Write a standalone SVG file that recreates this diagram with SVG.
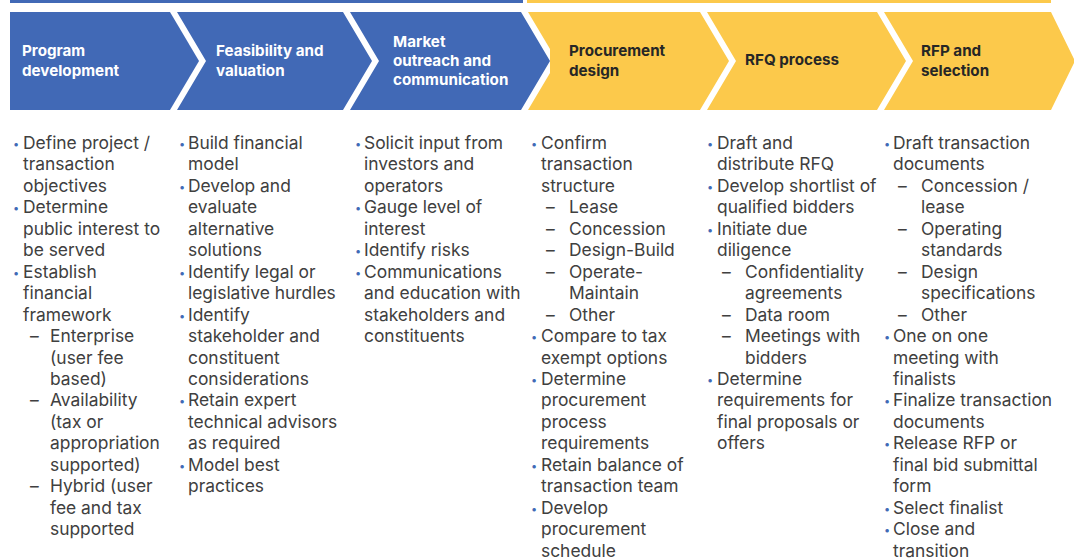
<svg xmlns="http://www.w3.org/2000/svg" width="1074" height="560" viewBox="0 0 1074 560">
<style>
.bg{fill:#ffffff}
.blue{fill:#4169b6}
.yel{fill:#fcc94b}
.hw{font-family:Inter,"Open Sans",sans-serif;font-size:15.2px;font-weight:bold;fill:#ffffff}
.hd{font-family:Inter,"Open Sans",sans-serif;font-size:15.2px;font-weight:bold;fill:#262626}
.t{font-family:Inter,"Open Sans",sans-serif;font-size:17.4px;fill:#404040}
.b{font-family:Inter,"Open Sans",sans-serif;font-size:11px;fill:#4169b6}
</style>
<rect class="bg" x="0" y="0" width="1074" height="560"/>
<rect class="blue" x="10" y="0" width="513" height="3"/>
<rect class="yel" x="527" y="0" width="524" height="3"/>
<g id="connectors"/>

<g id="stage1">
<polygon class="blue" points="10,12 170,12 199,61 170,110 10,110"/>
<text class="hw" x="22" y="56">Program</text>
<text class="hw" x="22" y="76">development</text>
<text class="b" x="13" y="148">•</text><text class="t" x="23" y="149">Define project /</text>
<text class="t" x="23" y="170.4">transaction</text>
<text class="t" x="23" y="191.9">objectives</text>
<text class="b" x="13" y="212.3">•</text><text class="t" x="23" y="213.3">Determine</text>
<text class="t" x="23" y="234.8">public interest to</text>
<text class="t" x="23" y="256.2">be served</text>
<text class="b" x="13" y="276.7">•</text><text class="t" x="23" y="277.7">Establish</text>
<text class="t" x="23" y="299.1">financial</text>
<text class="t" x="23" y="320.6">framework</text>
<text class="t" x="30" y="342">–</text><text class="t" x="50" y="342">Enterprise</text>
<text class="t" x="50" y="363.5">(user fee</text>
<text class="t" x="50" y="384.9">based)</text>
<text class="t" x="30" y="406.4">–</text><text class="t" x="50" y="406.4">Availability</text>
<text class="t" x="50" y="427.8">(tax or</text>
<text class="t" x="50" y="449.3">appropriation</text>
<text class="t" x="50" y="470.7">supported)</text>
<text class="t" x="30" y="492.2">–</text><text class="t" x="50" y="492.2">Hybrid (user</text>
<text class="t" x="50" y="513.6">fee and tax</text>
<text class="t" x="50" y="535.1">supported</text>
</g>

<g id="stage2">
<polygon class="blue" points="177,12 343,12 372,61 343,110 177,110 206,61"/>
<text class="hw" x="216" y="56">Feasibility and</text>
<text class="hw" x="216" y="76">valuation</text>
<text class="b" x="179" y="148">•</text><text class="t" x="188" y="149">Build financial</text>
<text class="t" x="188" y="170.4">model</text>
<text class="b" x="179" y="190.9">•</text><text class="t" x="188" y="191.9">Develop and</text>
<text class="t" x="188" y="213.3">evaluate</text>
<text class="t" x="188" y="234.8">alternative</text>
<text class="t" x="188" y="256.2">solutions</text>
<text class="b" x="179" y="276.7">•</text><text class="t" x="188" y="277.7">Identify legal or</text>
<text class="t" x="188" y="299.1">legislative hurdles</text>
<text class="b" x="179" y="319.6">•</text><text class="t" x="188" y="320.6">Identify</text>
<text class="t" x="188" y="342">stakeholder and</text>
<text class="t" x="188" y="363.5">constituent</text>
<text class="t" x="188" y="384.9">considerations</text>
<text class="b" x="179" y="405.4">•</text><text class="t" x="188" y="406.4">Retain expert</text>
<text class="t" x="188" y="427.8">technical advisors</text>
<text class="t" x="188" y="449.3">as required</text>
<text class="b" x="179" y="469.7">•</text><text class="t" x="188" y="470.7">Model best</text>
<text class="t" x="188" y="492.2">practices</text>
</g>

<g id="stage3">
<polygon class="blue" points="350,12 521,12 550,61 521,110 350,110 379,61"/>
<text class="hw" x="393" y="47">Market</text>
<text class="hw" x="393" y="66">outreach and</text>
<text class="hw" x="393" y="85">communication</text>
<text class="b" x="355" y="148">•</text><text class="t" x="364" y="149">Solicit input from</text>
<text class="t" x="364" y="170.4">investors and</text>
<text class="t" x="364" y="191.9">operators</text>
<text class="b" x="355" y="212.3">•</text><text class="t" x="364" y="213.3">Gauge level of</text>
<text class="t" x="364" y="234.8">interest</text>
<text class="b" x="355" y="255.2">•</text><text class="t" x="364" y="256.2">Identify risks</text>
<text class="b" x="355" y="276.7">•</text><text class="t" x="364" y="277.7">Communications</text>
<text class="t" x="364" y="299.1">and education with</text>
<text class="t" x="364" y="320.6">stakeholders and</text>
<text class="t" x="364" y="342">constituents</text>
</g>

<g id="stage4">
<polygon class="yel" points="528,12 700,12 729,61 700,110 528,110 550,73 550,49"/>
<text class="hd" x="569" y="56">Procurement</text>
<text class="hd" x="569" y="76">design</text>
<text class="b" x="531" y="148">•</text><text class="t" x="541" y="149">Confirm</text>
<text class="t" x="541" y="170.4">transaction</text>
<text class="t" x="541" y="191.9">structure</text>
<text class="t" x="546" y="213.3">–</text><text class="t" x="569" y="213.3">Lease</text>
<text class="t" x="546" y="234.8">–</text><text class="t" x="569" y="234.8">Concession</text>
<text class="t" x="546" y="256.2">–</text><text class="t" x="569" y="256.2">Design-Build</text>
<text class="t" x="546" y="277.7">–</text><text class="t" x="569" y="277.7">Operate-</text>
<text class="t" x="569" y="299.1">Maintain</text>
<text class="t" x="546" y="320.6">–</text><text class="t" x="569" y="320.6">Other</text>
<text class="b" x="531" y="341">•</text><text class="t" x="541" y="342">Compare to tax</text>
<text class="t" x="541" y="363.5">exempt options</text>
<text class="b" x="531" y="383.9">•</text><text class="t" x="541" y="384.9">Determine</text>
<text class="t" x="541" y="406.4">procurement</text>
<text class="t" x="541" y="427.8">process</text>
<text class="t" x="541" y="449.3">requirements</text>
<text class="b" x="531" y="469.7">•</text><text class="t" x="541" y="470.7">Retain balance of</text>
<text class="t" x="541" y="492.2">transaction team</text>
<text class="b" x="531" y="512.6">•</text><text class="t" x="541" y="513.6">Develop</text>
<text class="t" x="541" y="535.1">procurement</text>
<text class="t" x="541" y="556.5">schedule</text>
</g>

<g id="stage5">
<polygon class="yel" points="707,12 877,12 906,61 877,110 707,110 736,61"/>
<text class="hd" x="745" y="65">RFQ process</text>
<text class="b" x="707" y="148">•</text><text class="t" x="717" y="149">Draft and</text>
<text class="t" x="717" y="170.4">distribute RFQ</text>
<text class="b" x="707" y="190.9">•</text><text class="t" x="717" y="191.9">Develop shortlist of</text>
<text class="t" x="717" y="213.3">qualified bidders</text>
<text class="b" x="707" y="233.8">•</text><text class="t" x="717" y="234.8">Initiate due</text>
<text class="t" x="717" y="256.2">diligence</text>
<text class="t" x="722" y="277.7">–</text><text class="t" x="745" y="277.7">Confidentiality</text>
<text class="t" x="745" y="299.1">agreements</text>
<text class="t" x="722" y="320.6">–</text><text class="t" x="745" y="320.6">Data room</text>
<text class="t" x="722" y="342">–</text><text class="t" x="745" y="342">Meetings with</text>
<text class="t" x="745" y="363.5">bidders</text>
<text class="b" x="707" y="383.9">•</text><text class="t" x="717" y="384.9">Determine</text>
<text class="t" x="717" y="406.4">requirements for</text>
<text class="t" x="717" y="427.8">final proposals or</text>
<text class="t" x="717" y="449.3">offers</text>
</g>

<g id="stage6">
<polygon class="yel" points="884,12 1051,12 1075,61 1051,110 884,110 913,61"/>
<text class="hd" x="921" y="56">RFP and</text>
<text class="hd" x="921" y="76">selection</text>
<text class="b" x="884" y="148">•</text><text class="t" x="893" y="149">Draft transaction</text>
<text class="t" x="893" y="170.4">documents</text>
<text class="t" x="898" y="191.9">–</text><text class="t" x="921" y="191.9">Concession /</text>
<text class="t" x="921" y="213.3">lease</text>
<text class="t" x="898" y="234.8">–</text><text class="t" x="921" y="234.8">Operating</text>
<text class="t" x="921" y="256.2">standards</text>
<text class="t" x="898" y="277.7">–</text><text class="t" x="921" y="277.7">Design</text>
<text class="t" x="921" y="299.1">specifications</text>
<text class="t" x="898" y="320.6">–</text><text class="t" x="921" y="320.6">Other</text>
<text class="b" x="884" y="341">•</text><text class="t" x="893" y="342">One on one</text>
<text class="t" x="893" y="363.5">meeting with</text>
<text class="t" x="893" y="384.9">finalists</text>
<text class="b" x="884" y="405.4">•</text><text class="t" x="893" y="406.4">Finalize transaction</text>
<text class="t" x="893" y="427.8">documents</text>
<text class="b" x="884" y="448.3">•</text><text class="t" x="893" y="449.3">Release RFP or</text>
<text class="t" x="893" y="470.7">final bid submittal</text>
<text class="t" x="893" y="492.2">form</text>
<text class="b" x="884" y="512.6">•</text><text class="t" x="893" y="513.6">Select finalist</text>
<text class="b" x="884" y="534.1">•</text><text class="t" x="893" y="535.1">Close and</text>
<text class="t" x="893" y="556.5">transition</text>
</g>
</svg>
